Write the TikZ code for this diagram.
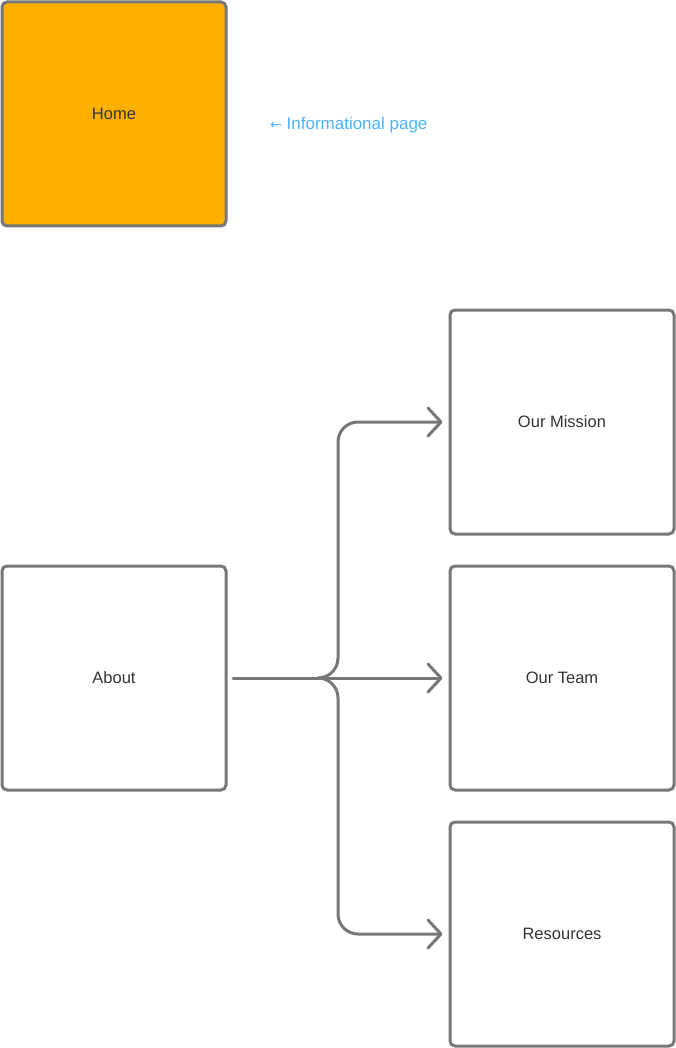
\documentclass[tikz,border=0pt]{standalone}
\usepackage{fontspec}
\setmainfont{Liberation Sans}
\newfontfamily\arrowfont{DejaVu Sans}
\usetikzlibrary{arrows.meta}
\definecolor{edge}{HTML}{777777}
\definecolor{homefill}{HTML}{FFB000}
\definecolor{txt}{HTML}{333333}
\definecolor{note}{HTML}{4DB3FF}
\tikzset{
  page/.style={draw=edge, line width=3pt, rounded corners=5pt, minimum width=224pt, minimum height=224pt, inner sep=0pt, font=\fontsize{16.5}{19}\selectfont, text=txt},
  link/.style={draw=edge, line width=3pt, line cap=round, rounded corners=20pt, -{Straight Barb[length=13pt,width=28pt,line width=3pt,round]}}
}
\begin{document}
\begin{tikzpicture}[x=1pt,y=-1pt]
\useasboundingbox (0,0) rectangle (676,1048);
\node[page, fill=homefill] (home) at (114,114) {Home};
\node[anchor=west, text=note, font=\fontsize{17}{20}\selectfont, inner sep=0pt] (info) at (270,125) {{\arrowfont\fontsize{14}{17}\selectfont ←} Informational page};
\node[page, fill=white] (about) at (114,678) {About};
\node[page, fill=white] (mission) at (562,422) {Our Mission};
\node[page, fill=white] (team) at (562,678) {Our Team};
\node[page, fill=white] (res) at (562,934) {Resources};
\coordinate (s) at (233,678);
\coordinate (j) at (318,678);
\draw[link] (s) -- ([xshift=-6pt]team.west);
\draw[link] (j) -- (338,678) -- (338,422) -- ([xshift=-6pt]mission.west);
\draw[link] (j) -- (338,678) -- (338,934) -- ([xshift=-6pt]res.west);
\end{tikzpicture}
\end{document}
